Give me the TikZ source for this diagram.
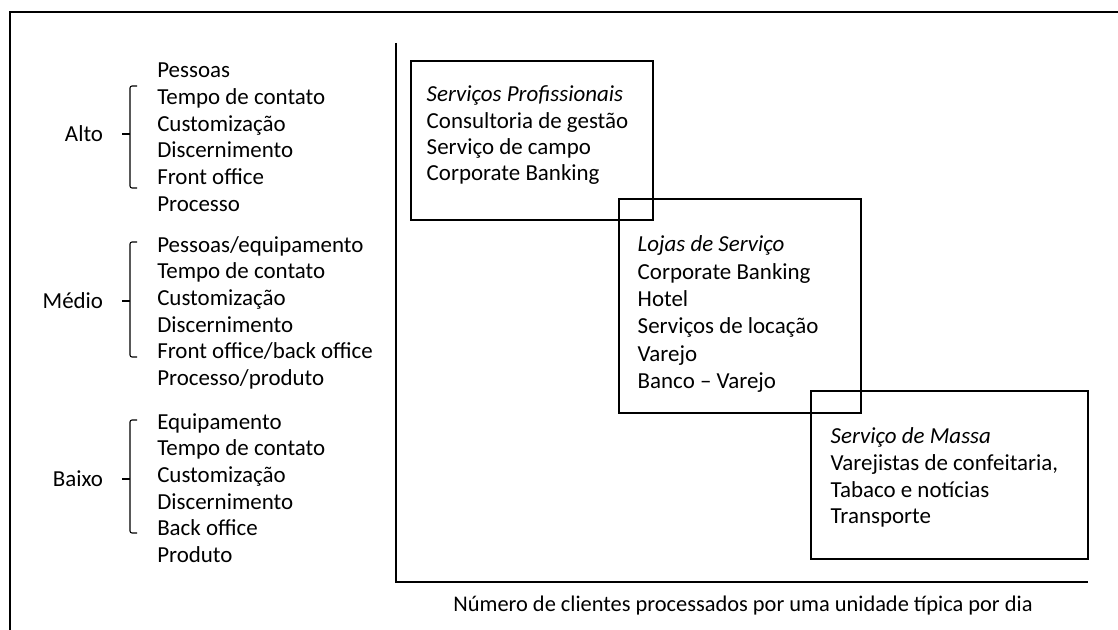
\documentclass[tikz,border=0pt]{standalone}
\usepackage{fontspec}
\setmainfont{Carlito}
\usetikzlibrary{positioning}

\begin{document}
\begin{tikzpicture}[
  x=0.75pt, y=-0.75pt,
  txt/.style={font=\fontsize{17.2pt}{20pt}\selectfont},
  lista/.style={txt, align=left, inner sep=0pt, anchor=north west},
  nivel/.style={txt, inner sep=0pt},
  box/.style={draw, line width=0.8pt, inner sep=0pt},
  boxtxt/.style={txt, align=left, inner sep=0pt},
  chave/.style={line width=0.8pt, rounded corners=1.5pt},
  eixo/.style={line width=0.9pt}
]
\useasboundingbox (0,0) rectangle (1118,630);
\draw[line width=1.2pt] (10,630) -- (10,12) -- (1118,12);

% niveis de contato
\node[lista] (altoL) at (157,63) {Pessoas\\Tempo de contato\\Customização\\Discernimento\\Front office\\Processo};
\node[lista] (medioL) at (157,236) {Pessoas/equipamento\\Tempo de contato\\Customização\\Discernimento\\Front office/back office\\Processo/produto};
\node[lista] (baixoL) at (157,413) {Equipamento\\Tempo de contato\\Customização\\Discernimento\\Back office\\Produto};

\coordinate (altoM) at (122,134);
\coordinate (medioM) at (122,301);
\coordinate (baixoM) at (122,479);

\node[nivel, left=14pt of altoM] (alto) {Alto};
\node[nivel, left=14pt of medioM] (medio) {Médio};
\node[nivel, left=14pt of baixoM] (baixo) {Baixo};

\draw[chave] (137,86) -| (130,188) -- (137,188);
\draw[chave] (130,134) -- (altoM);
\draw[chave] (137,242) -| (130,357) -- (137,357);
\draw[chave] (130,301) -- (medioM);
\draw[chave] (137,420) -| (130,533) -- (137,533);
\draw[chave] (130,479) -- (baixoM);

% eixo
\coordinate (topo) at (396,43);
\coordinate (origem) at (396,582);
\coordinate (fim) at (1088,582);
\draw[eixo] (topo) -- (origem) -- (fim);
\node[txt, font=\fontsize{16.8pt}{19pt}\selectfont] (eixoX) at (743,606) {Número de clientes processados por uma unidade típica por dia};

% tipos de servico
\node[box, minimum width=181.5pt, minimum height=119.25pt] (prof) at (532,140.5) {};
\node[box, minimum width=181.5pt, minimum height=160.5pt] (lojas) at (740,306) {};
\node[box, minimum width=207.75pt, minimum height=126pt] (massa) at (949.5,475) {};

\node[boxtxt, font=\fontsize{17.2pt}{19.6pt}\selectfont, below right=19pt and 12pt of prof.north west] (profT) {\textit{Serviços Profissionais}\\Consultoria de gestão\\Serviço de campo\\Corporate Banking};
\node[boxtxt, font=\fontsize{17.2pt}{20.5pt}\selectfont, below right=28pt and 14.25pt of lojas.north west] (lojasT) {\textit{Lojas de Serviço}\\Corporate Banking\\Hotel\\Serviços de locação\\Varejo\\Banco -- Varejo};
\node[boxtxt, below right=28pt and 15pt of massa.north west] (massaT) {\textit{Serviço de Massa}\\Varejistas de confeitaria,\\Tabaco e notícias\\Transporte};
\end{tikzpicture}
\end{document}
